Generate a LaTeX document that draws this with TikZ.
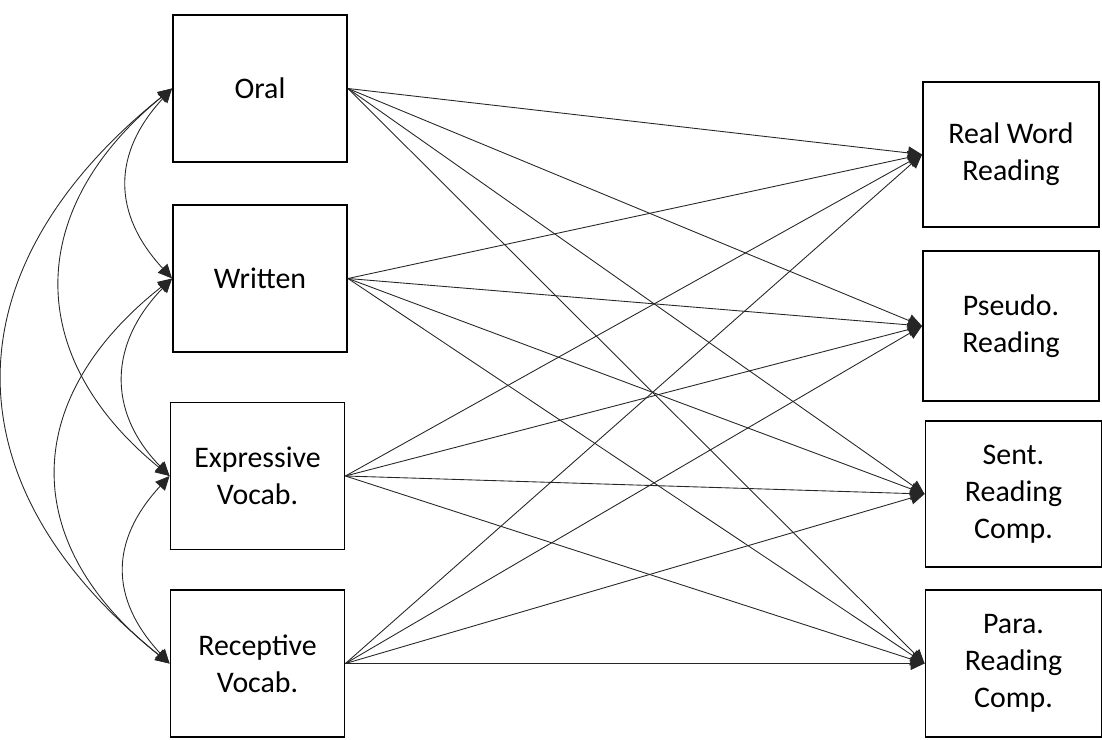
\documentclass[tikz,border=0pt]{standalone}
\usepackage{fontspec}
\setmainfont{Carlito}
\usetikzlibrary{arrows.meta}

\tikzset{
  varbox/.style={draw, line width=1.1pt, align=center,
    minimum width=3.48cm, minimum height=2.94cm,
    font=\fontsize{17}{21}\selectfont},
  outbox/.style={varbox, minimum width=3.52cm},
  regline/.style={-{Triangle[length=2.8mm,width=2.6mm]}, line width=0.5pt, draw=black!85},
  covline/.style={{Triangle[length=2.8mm,width=2.6mm]}-{Triangle[length=2.8mm,width=2.6mm]}, line width=0.5pt, draw=black!85}
}

\begin{document}
\begin{tikzpicture}[x=0.02cm, y=-0.02cm]
        \useasboundingbox (0,0) rectangle (1102,740);

        % Predictors
        \node[varbox] (oral) at (260,88.5) {Oral};
        \node[varbox] (written) at (260,278.5) {Written};
        \node[varbox] (expr) at (257.5,476) {Expressive\\Vocab.};
        \node[varbox] (recep) at (257.5,663.5) {Receptive\\Vocab.};

        % Outcomes
        \node[outbox, minimum height=2.9cm] (real) at (1011,154.5) {Real Word\\Reading};
        \node[outbox, minimum height=3.0cm] (pseudo) at (1011,326) {Pseudo.\\Reading};
        \node[outbox, minimum height=2.92cm] (sent) at (1013.5,494) {Sent.\\Reading\\Comp.};
        \node[outbox] (para) at (1013.5,663.5) {Para.\\Reading\\Comp.};

        % Paths
        \foreach \s in {oral,written,expr,recep}
          \foreach \t in {real,pseudo,sent,para}
            \draw[regline] (\s.east) -- (\t.west);

        % Correlations
        \draw[covline] (oral.west) .. controls +(-60,65) and +(-60,-65) .. (written.west);
        \draw[covline] (written.west) .. controls +(-63,65) and +(-63,-65) .. (expr.west);
        \draw[covline] (expr.west) .. controls +(-60,65) and +(-60,-65) .. (recep.west);
        \draw[covline] (oral.west) .. controls +(-147,120) and +(-147,-120) .. (expr.west);
        \draw[covline] (written.west) .. controls +(-152,120) and +(-152,-120) .. (recep.west);
        \draw[covline] (oral.west) .. controls +(-224,180) and +(-224,-180) .. (recep.west);
    \end{tikzpicture}
\end{document}
